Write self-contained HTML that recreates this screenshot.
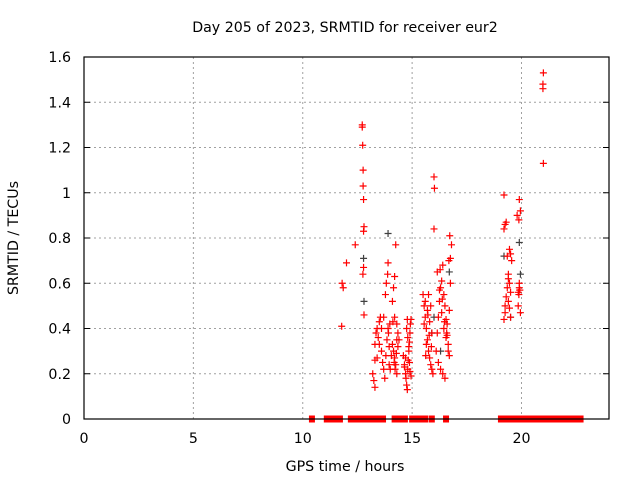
<!DOCTYPE html>
<html><head><meta charset="utf-8"><style>
body{margin:0;background:#fff;}
svg{display:block;font-family:"DejaVu Sans","Liberation Sans",sans-serif;}
</style></head><body>
<svg id="chart" width="640" height="480">
<text x="345" y="32" text-anchor="middle" font-size="14.2">Day 205 of 2023, SRMTID for receiver eur2</text>
<text x="345" y="471" text-anchor="middle" font-size="14.2">GPS time / hours</text>
<text transform="translate(18,238) rotate(-90)" text-anchor="middle" font-size="14.2">SRMTID / TECUs</text>
<g id="grid"></g><g id="ticks"></g><g id="marks"></g>
<rect x="84" y="57" width="525" height="362" fill="none" stroke="#000" stroke-width="1.2"/>
</svg>
<script>
const xTicks=[0,5,10,15,20];
const yTicks=[0,0.2,0.4,0.6,0.8,1,1.2,1.4,1.6];
const yTickLabels=["0","0.2","0.4","0.6","0.8","1","1.2","1.4","1.6"];
const redTimes=[12.72,12.72,12.74,12.76,12.76,12.78,12.8,12.78,12.78,12.75,12.8,11.8,11.85,11.78,12.0,12.4,
13.2,13.25,13.3,13.3,13.35,13.4,13.45,13.3,13.5,13.55,13.6,13.65,13.7,13.75,13.8,13.85,13.9,13.92,13.95,13.82,13.88,13.9,13.78,13.7,13.6,13.5,13.4,13.95,14.0,13.98,
14.1,14.15,14.2,14.25,14.2,14.3,14.35,14.4,14.15,14.2,14.25,14.3,14.1,14.05,14.12,14.18,14.22,14.28,14.3,14.35,
14.6,14.65,14.7,14.72,14.75,14.78,14.8,14.82,14.85,14.88,14.9,14.92,14.95,14.75,14.8,14.85,14.7,14.65,14.9,14.95,14.88,14.78,
15.5,15.55,15.6,15.65,15.7,15.75,15.8,15.85,15.9,15.95,15.6,15.7,15.8,15.9,15.65,15.75,15.85,15.55,15.62,15.72,15.78,15.88,16.0,16.02,16.0,
16.1,16.15,16.2,16.25,16.3,16.35,16.4,16.45,16.5,16.55,16.6,16.65,16.7,16.75,16.2,16.3,16.4,16.5,16.6,16.7,16.25,16.35,16.45,16.55,16.65,16.75,16.15,16.28,16.38,16.48,16.58,16.68,16.72,16.8,
19.2,19.25,19.2,19.3,19.35,19.4,19.45,19.5,19.25,19.3,19.35,19.4,19.45,19.5,19.55,19.2,19.25,19.4,19.45,19.5,
19.85,19.9,19.92,19.95,19.88,19.8,19.9,19.85,19.95,19.9,19.88,19.92,
21.0,20.98,20.98,21.0];
const redValues=[1.30,1.29,1.21,1.10,1.03,0.97,0.85,0.83,0.67,0.64,0.46,0.60,0.58,0.41,0.69,0.77,
0.20,0.17,0.14,0.33,0.38,0.40,0.36,0.26,0.43,0.45,0.30,0.25,0.22,0.18,0.28,0.35,0.40,0.38,0.32,0.60,0.64,0.69,0.55,0.45,0.40,0.33,0.27,0.24,0.22,0.42,
0.52,0.58,0.63,0.77,0.45,0.42,0.38,0.35,0.30,0.27,0.24,0.20,0.33,0.28,0.43,0.25,0.22,0.29,0.35,0.32,
0.28,0.24,0.20,0.18,0.15,0.13,0.22,0.26,0.30,0.34,0.38,0.42,0.44,0.40,0.36,0.32,0.27,0.23,0.21,0.19,0.25,0.44,
0.55,0.50,0.45,0.40,0.35,0.30,0.27,0.24,0.22,0.20,0.52,0.48,0.43,0.38,0.33,0.55,0.50,0.42,0.28,0.46,0.37,0.32,1.07,1.02,0.84,
0.30,0.38,0.45,0.52,0.58,0.61,0.68,0.55,0.50,0.44,0.37,0.33,0.28,0.71,0.25,0.22,0.20,0.18,0.42,0.48,0.57,0.47,0.40,0.36,0.30,0.60,0.65,0.66,0.53,0.43,0.38,0.70,0.81,0.77,
0.44,0.47,0.84,0.87,0.72,0.64,0.60,0.56,0.50,0.54,0.58,0.62,0.75,0.73,0.70,0.99,0.86,0.52,0.49,0.45,
0.56,0.58,0.57,0.92,0.88,0.90,0.97,0.50,0.47,0.60,0.55,0.57,
1.53,1.48,1.46,1.13];
const darkTimes=[12.78,12.8,13.9,16.0,16.7,19.2,19.9,19.95,19.5,15.9,16.3];
const darkValues=[0.71,0.52,0.82,0.45,0.65,0.72,0.78,0.64,0.45,0.38,0.30];
const zeroTimes=[10.42,11.1,11.25,11.4,11.6,11.7,12.2,12.3,12.45,12.6,12.7,12.85,13.0,13.1,13.2,13.35,13.5,13.67,14.2,14.45,14.67,15.0,15.1,15.2,15.3,15.45,15.6,15.9,16.55,
19.06,19.2,19.45,19.6,19.85,20.1,20.2,20.35,20.5,20.6,20.8,20.9,21.15,21.35,21.45,21.6,21.7,21.9,22.0,22.2,22.35,22.6,22.7];
const zeroValues=zeroTimes.map(()=>0);

const X0=84,X1=609,Y0=419,Y1=57;
const xs=h=>X0+(h/24)*(X1-X0);
const ys=v=>Y0-(v/1.6)*(Y0-Y1);
const NS="http://www.w3.org/2000/svg";
function mk(tag,attrs,parent){const e=document.createElementNS(NS,tag);for(const k in attrs)e.setAttribute(k,attrs[k]);document.getElementById(parent).appendChild(e);return e;}
xTicks.forEach(t=>{
  const x=xs(t);
  if(t>0){const g=mk('line',{x1:x,x2:x,y1:Y0,y2:Y1,stroke:'#a0a0a0','stroke-dasharray':'2,3'},'grid');
  
  }
  const l=mk('text',{x:x,y:443,'text-anchor':'middle','font-size':'14.2'},'ticks');l.textContent=t;
  
  
});
yTicks.forEach((t,i)=>{
  const y=ys(t);
  if(i>0&&i<yTicks.length-1){const g=mk('line',{x1:X0,x2:X1,y1:y,y2:y,stroke:'#a0a0a0','stroke-dasharray':'2,3'},'grid');
  
  }
  const tk=mk('line',{x1:X0,x2:X0+6,y1:y,y2:y,stroke:'#000'},'ticks');
  
  
  const tk2=mk('line',{x1:X1-6,x2:X1,y1:y,y2:y,stroke:'#000'},'ticks');
  
  
  const l=mk('text',{x:71,y:y+5,'text-anchor':'end','font-size':'14.2'},'ticks');l.textContent=yTickLabels[i];
  
  
});
function plus(h,v,color,name){
  const x=xs(h),y=ys(v);
  const p=mk('path',{d:`M${x-3.5},${y}H${x+3.5}M${x},${y-3.5}V${y+3.5}`,stroke:color,'stroke-width':'1.2',fill:'none'},'marks');
  
  
}
darkTimes.forEach((h,i)=>plus(h,darkValues[i],'#404040','dark-point'));
redTimes.forEach((h,i)=>plus(h,redValues[i],'#ff0000','srmtid-point'));
zeroTimes.forEach((h,i)=>{
  const r=mk('rect',{x:xs(h)-3,y:ys(zeroValues[i])-3.5,width:6,height:7,fill:'#ff0000'},'marks');
  
  
});
</script>
</body></html>
